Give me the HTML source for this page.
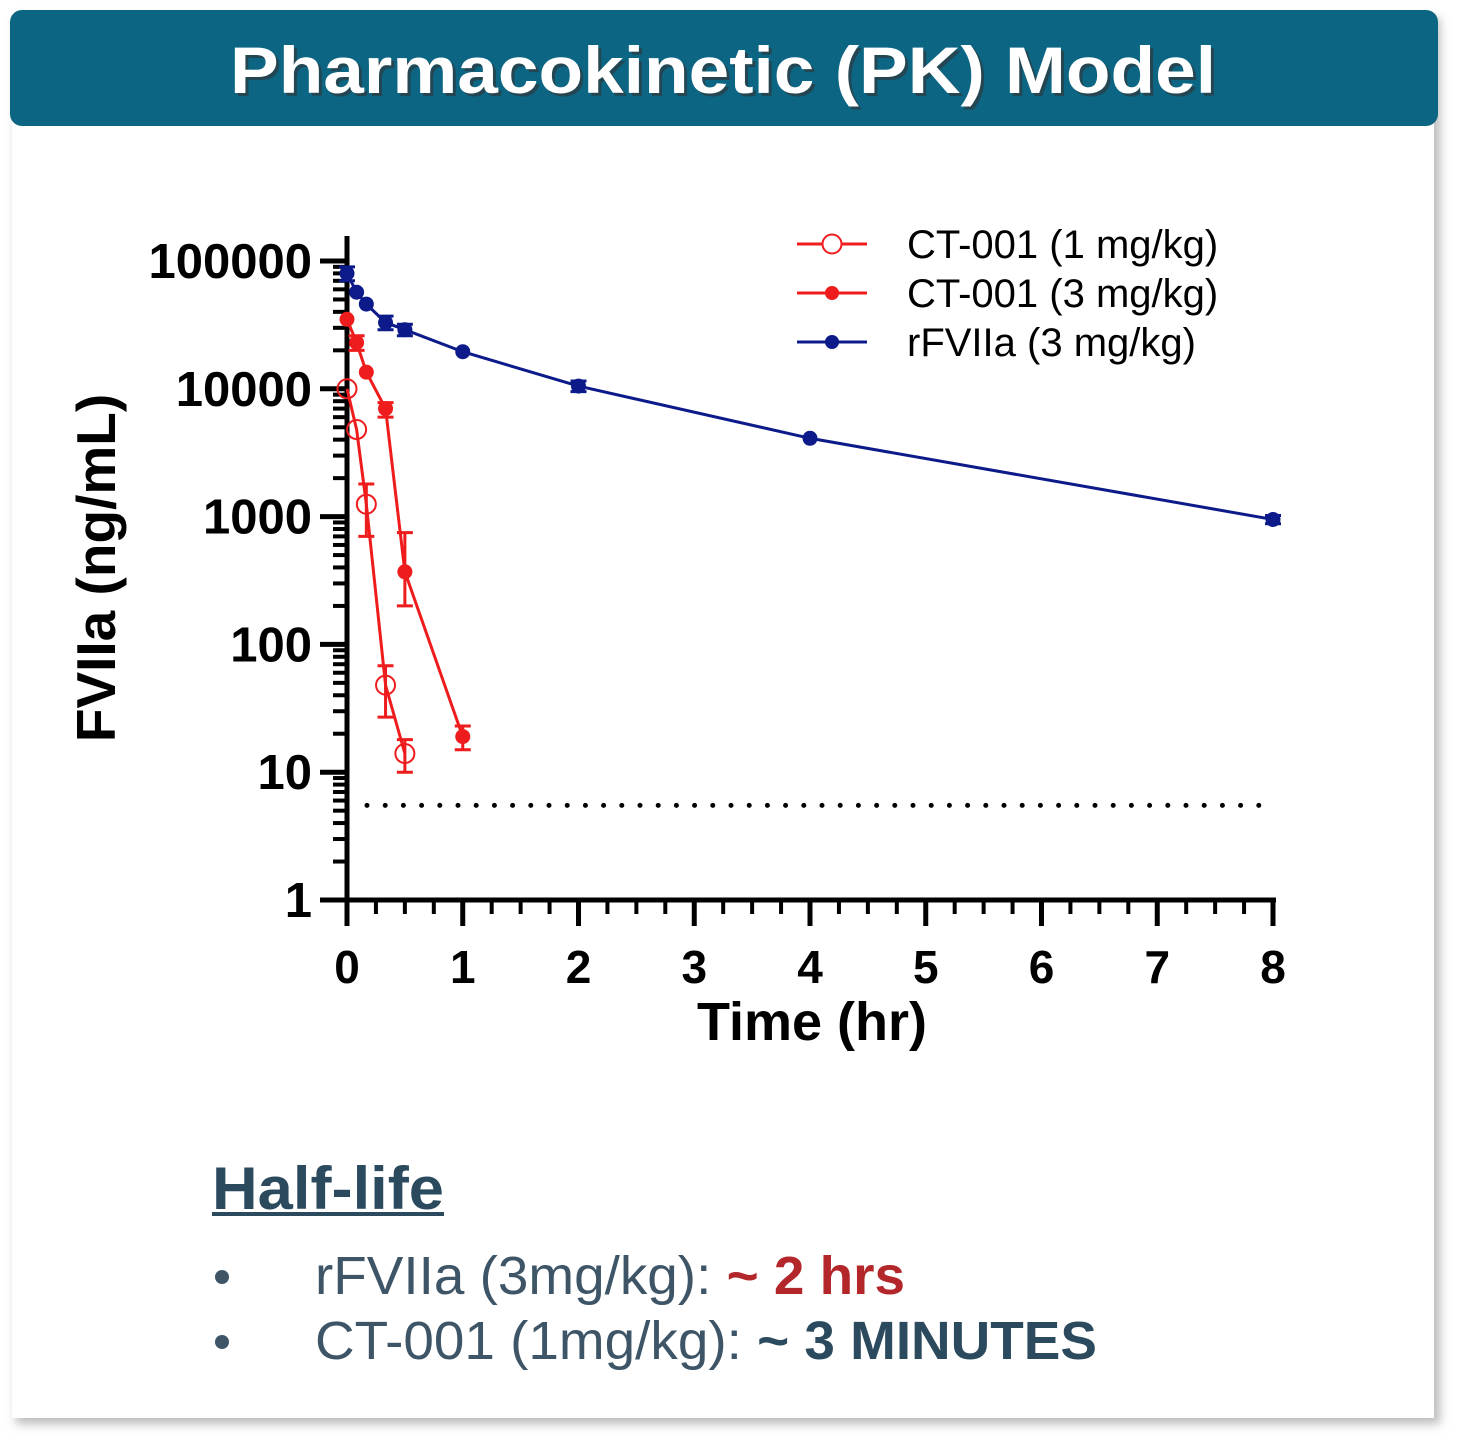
<!DOCTYPE html>
<html><head><meta charset="utf-8"><style>
html,body{margin:0;padding:0;background:#fff;}
svg{display:block;font-family:"Liberation Sans",sans-serif;}
</style></head><body>
<svg id="s" width="1464" height="1453" viewBox="0 0 1464 1453">
<defs>
<filter id="sh" x="-5%" y="-5%" width="110%" height="110%"><feGaussianBlur stdDeviation="5"/></filter>
</defs>
<rect x="16" y="18" width="1424" height="1406" fill="#bbb" filter="url(#sh)"/>
<rect x="12" y="12" width="1422" height="1406" fill="#fff"/>
<rect x="10" y="10" width="1428" height="116" rx="12" fill="#0b6583"/>
<text x="726" y="96" text-anchor="middle" font-size="66" font-weight="bold" fill="#333" opacity="0.6" textLength="986" lengthAdjust="spacingAndGlyphs">Pharmacokinetic (PK) Model</text>
<text x="723" y="93" text-anchor="middle" font-size="66" font-weight="bold" fill="#fff" textLength="986" lengthAdjust="spacingAndGlyphs">Pharmacokinetic (PK) Model</text>
<g id="chart"></g>
<text x="212" y="1209" font-size="60" font-weight="bold" fill="#2b4a5e" textLength="232" lengthAdjust="spacingAndGlyphs">Half-life</text>
<rect x="212" y="1212" width="232" height="4" fill="#2b4a5e"/>
<circle cx="222" cy="1277" r="7" fill="#3d5566"/>
<text x="315" y="1294" font-size="54" fill="#3d5566" textLength="590" lengthAdjust="spacingAndGlyphs">rFVIIa (3mg/kg): <tspan fill="#b3262a" font-weight="bold">~ 2 hrs</tspan></text>
<circle cx="222" cy="1342" r="7" fill="#3d5566"/>
<text x="315" y="1359" font-size="54" fill="#3d5566" textLength="782" lengthAdjust="spacingAndGlyphs">CT-001 (1mg/kg): <tspan font-weight="bold" fill="#2b4a5e">~ 3 MINUTES</tspan></text>
</svg>
<script>
const ct1Times=[0,0.083,0.167,0.333,0.5];
const ct1Vals=[10000,4800,1250,48,14];
const ct1Lo=[10000,4800,700,27,10];
const ct1Hi=[10000,4800,1800,68,18];
const ct3Times=[0,0.083,0.167,0.333,0.5,1];
const ct3Vals=[35000,23000,13500,7000,370,19];
const ct3Lo=[35000,20000,13500,6000,200,15];
const ct3Hi=[35000,26000,13500,7800,750,23];
const rfTimes=[0,0.083,0.167,0.333,0.5,1,2,4,8];
const rfVals=[80000,57000,46000,33000,29000,19500,10500,4100,950];
const rfLo=[70000,57000,46000,29000,26000,19500,9500,4100,880];
const rfHi=[90000,57000,46000,37000,32000,19500,11500,4100,1020];
const yTicks=[1,10,100,1000,10000,100000];
const yTickLabels=["1","10","100","1000","10000","100000"];
const xTicks=[0,1,2,3,4,5,6,7,8];
const lloq=5.5;
const NS='http://www.w3.org/2000/svg';
const g=document.getElementById('chart');
const X=t=>347+t*115.75;
const Y=v=>900-Math.log10(v)*127.8;
function mk(tag,a,p){const e=document.createElementNS(NS,tag);for(const k in a)e.setAttribute(k,a[k]);(p||g).appendChild(e);return e;}
let e=mk('line',{x1:347,y1:236,x2:347,y2:902,stroke:'#000','stroke-width':5});


e=mk('line',{x1:345,y1:900,x2:1276,y2:900,stroke:'#000','stroke-width':5});


yTicks.forEach((v,i)=>{
  let t=mk('line',{x1:320,y1:Y(v),x2:347,y2:Y(v),stroke:'#000','stroke-width':5});
  
  
  let l=mk('text',{x:312,y:Y(v)+17,'text-anchor':'end','font-size':49,'font-weight':'bold'});
  l.textContent=yTickLabels[i];
  
  
  if(i<yTicks.length-1){for(let m=2;m<=9;m++){
    let mt=mk('line',{x1:333,y1:Y(v*m),x2:347,y2:Y(v*m),stroke:'#000','stroke-width':4});
    
    
  }}
});
for(let q=0;q<=32;q++){
  const t=q/4,maj=q%4===0;
  let tk=mk('line',{x1:X(t),y1:900,x2:X(t),y2:maj?926:914,stroke:'#000','stroke-width':maj?5:4});
  
  
}
xTicks.forEach(t=>{
  let l=mk('text',{x:X(t),y:983,'text-anchor':'middle','font-size':46,'font-weight':'bold'});
  l.textContent=t;
  
  
});
e=mk('text',{x:812,y:1040,'text-anchor':'middle','font-size':54,'font-weight':'bold'});
e.textContent='Time (hr)';


e=mk('text',{x:0,y:0,'text-anchor':'middle','font-size':55,'font-weight':'bold',transform:'translate(115,568) rotate(-90)'});
e.textContent='FVIIa (ng/mL)';


e=mk('line',{x1:367,y1:Y(lloq),x2:1262,y2:Y(lloq),stroke:'#000','stroke-width':5,'stroke-dasharray':'0 18.2','stroke-linecap':'round'});


function series(name,times,vals,lo,hi,color,open){
  const sg=mk('g',{});
  
  
  let p=mk('polyline',{points:times.map((t,i)=>X(t)+','+Y(vals[i])).join(' '),fill:'none',stroke:color,'stroke-width':3},sg);
  
  
  times.forEach((t,i)=>{
    if(hi[i]>lo[i]){
      let eb=mk('path',{d:`M${X(t)},${Y(lo[i])}V${Y(hi[i])}M${X(t)-8},${Y(lo[i])}h16M${X(t)-8},${Y(hi[i])}h16`,stroke:color,'stroke-width':3,fill:'none'},sg);
      
      
    }
    let c=mk('circle',{cx:X(t),cy:Y(vals[i]),r:open?9.5:7,fill:open?'none':color,stroke:color,'stroke-width':open?2:1},sg);
    
    
  });
}
series('rfviia-3mgkg',rfTimes,rfVals,rfLo,rfHi,'#0c1a8a',false);
series('ct001-3mgkg',ct3Times,ct3Vals,ct3Lo,ct3Hi,'#ee1c1c',false);
series('ct001-1mgkg',ct1Times,ct1Vals,ct1Lo,ct1Hi,'#ee1c1c',true);
const leg=[['CT-001 (1 mg/kg)','#ee1c1c',true],['CT-001 (3 mg/kg)','#ee1c1c',false],['rFVIIa (3 mg/kg)','#0c1a8a',false]];
leg.forEach((L,i)=>{
  const y=244+i*49;
  const lg=mk('g',{});
  
  
  mk('line',{x1:797,y1:y,x2:867,y2:y,stroke:L[1],'stroke-width':3},lg);
  mk('circle',{cx:832,cy:y,r:L[2]?9.5:6,fill:L[2]?'#fff':L[1],stroke:L[1],'stroke-width':2},lg);
  const t=mk('text',{x:907,y:y+14,'font-size':40},lg);
  t.textContent=L[0];
});
</script>
</body></html>
